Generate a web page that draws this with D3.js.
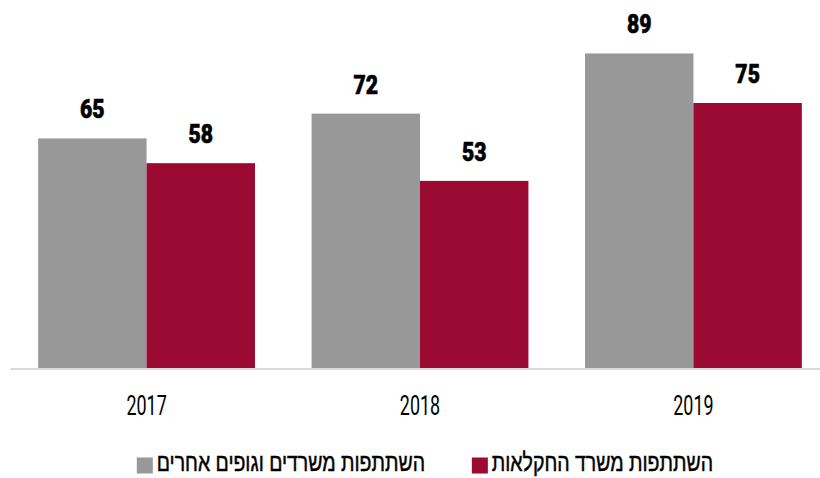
<!DOCTYPE html>
<html>
<head>
<meta charset="utf-8">
<script src="https://cdn.jsdelivr.net/npm/d3@7"></script>
<style>
  body { margin: 0; background: #fff; }
  #chart svg { display: block; }
</style>
</head>
<body>
<div id="chart"></div>
<script>
// ---- data ----
const years = ["2017", "2018", "2019"];
const series = ["other", "agri"];
const series_labels = ["השתתפות משרדים וגופים אחרים", "השתתפות משרד החקלאות"];
const other_values = [65, 72, 89];   // grey bars
const agri_values = [58, 53, 75];    // red bars
const colors = ["#989898", "#9a0a33"];

const outer_width = 820, outer_height = 478;
const baseline = 368.5;

const rows = years.map((y, i) => ({ year: y, other: other_values[i], agri: agri_values[i] }));

const svg = d3.select("#chart").append("svg")
    .attr("width", outer_width)
    .attr("height", outer_height);

// scales
const x0 = d3.scaleBand()
    .domain(years)
    .range([10, 830])
    .paddingInner(0.207)
    .paddingOuter(0.103);

const x1 = d3.scaleBand()
    .domain(series)
    .range([0, x0.bandwidth()]);

const y = d3.scaleLinear()
    .domain([0, 100])
    .range([baseline, baseline - 354]);

const color = d3.scaleOrdinal().domain(series).range(colors);

// bars
const groups = svg.append("g").selectAll("g")
    .data(rows)
    .join("g")
    .attr("transform", d => `translate(${x0(d.year)},0)`);

const bar_data = d => series.map(s => ({ key: s, value: d[s] }));

groups.selectAll("rect")
    .data(bar_data)
    .join("rect")
    .attr("x", d => x1(d.key))
    .attr("y", d => y(d.value))
    .attr("width", x1.bandwidth())
    .attr("height", d => y(0) - y(d.value))
    .attr("fill", d => color(d.key));

// value labels (condensed heavy look via horizontal squeeze)
groups.selectAll("text")
    .data(bar_data)
    .join("text")
    .attr("transform", d => `translate(${x1(d.key) + x1.bandwidth() / 2},${y(d.value) - 20}) scale(0.8,1)`)
    .attr("text-anchor", "middle")
    .style("font-family", "Roboto, 'Liberation Sans', sans-serif")
    .style("font-weight", 900)
    .style("font-size", "26.5px")
    .style("fill", "#000")
    .style("stroke", "#000")
    .style("stroke-width", 0.6)
    .text(d => d.value);

// x axis
const x_axis = svg.append("g")
    .attr("transform", `translate(0,${baseline})`)
    .call(d3.axisBottom(x0).tickSize(0).tickPadding(0));

x_axis.select(".domain")
    .attr("stroke", "#d9d9d9")
    .attr("stroke-width", 2);

x_axis.selectAll(".tick text")
    .attr("y", 0).attr("dy", 0)
    .attr("transform", "translate(0,46.5) scale(0.64,1)")
    .style("font-family", "Roboto, 'Liberation Sans', sans-serif")
    .style("font-size", "28px")
    .style("fill", "#000");

// legend
const legend_right = [425, 713];
const legend = svg.append("g").selectAll("g")
    .data(series)
    .join("g");

legend.each(function(s, i) {
    const g = d3.select(this);
    const t = g.append("text")
        .attr("transform", `translate(${legend_right[i]},471) scale(0.78,1)`)
        .attr("text-anchor", "end")
        .style("font-family", "'Liberation Sans', 'DejaVu Sans', sans-serif")
        .style("font-size", "25px")
        .style("fill", "#000")
        .style("stroke", "#000")
        .style("stroke-width", 0.5)
        .text(series_labels[i]);
    const w = t.node().getComputedTextLength() * 0.78;
    g.append("rect")
        .attr("x", legend_right[i] - w - 4 - 16)
        .attr("y", 457.5)
        .attr("width", 16)
        .attr("height", 16)
        .attr("fill", color(s));
});
</script>
</body>
</html>
